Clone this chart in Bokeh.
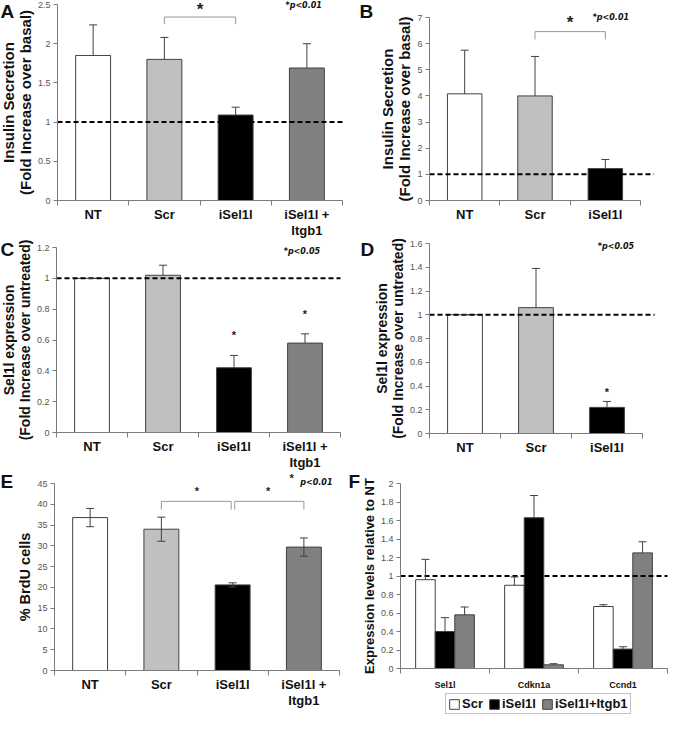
from bokeh.plotting import figure
from bokeh.models import (Range1d, FixedTicker, LinearAxis, Label, Whisker, TeeHead,
                          ColumnDataSource, Legend, LegendItem, NumeralTickFormatter)
from bokeh.layouts import column, row
from bokeh.embed import file_html
from bokeh.resources import INLINE

FONT = "Liberation Sans"

# ---------------- data ----------------
groups4 = ["NT", "Scr", "iSel1l", "iSel1l +\nItgb1"]
groups3 = ["NT", "Scr", "iSel1l"]

a_mean = [1.85, 1.80, 1.09, 1.69]
a_err = [0.39, 0.28, 0.10, 0.31]
b_mean = [4.08, 4.00, 1.22]
b_err = [1.67, 1.51, 0.35]
c_mean = [1.00, 1.02, 0.42, 0.58]
c_err = [0.00, 0.065, 0.08, 0.06]
d_mean = [1.00, 1.06, 0.22]
d_err = [0.00, 0.33, 0.05]
e_mean = [36.8, 34.0, 20.6, 29.7]
e_err = [2.2, 2.9, 0.5, 2.2]

f_genes = ["Sel1l", "Cdkn1a", "Ccnd1"]
f_series = ["Scr", "iSel1l", "iSel1l+Itgb1"]
f_scr = [0.96, 0.90, 0.67]
f_scr_err = [0.22, 0.09, 0.02]
f_isel = [0.40, 1.63, 0.21]
f_isel_err = [0.15, 0.24, 0.025]
f_itgb = [0.58, 0.04, 1.25]
f_itgb_err = [0.085, 0.012, 0.12]

# ---------------- styles ----------------
FILL = ["#ffffff", "#c0c0c0", "#000000", "#808080"]
EDGE = "#404040"
AXC = "#7a7a7a"
TXT = "#111111"


def make_fig(w, h, n, ymax, ystep, ylabel, frame, ylab_size="15px"):
    # frame = local pixel positions of x=0, x=n, y=ymax, y=0
    l, r, t, b = frame
    ux = (r - l) / n
    uy = (b - t) / ymax
    xr = Range1d(-l / ux, n + (w - r) / ux)
    yr = Range1d(-(h - b) / uy, ymax + t / uy)
    p = figure(width=w, height=h, x_range=xr, y_range=yr, x_axis_type=None, y_axis_type=None,
               output_backend="svg", toolbar_location=None, min_border=0,
               min_border_left=0, min_border_right=0, min_border_top=0, min_border_bottom=0)
    p.outline_line_color = None
    nt = int(round(ymax / ystep))
    ticks = [round(i * ystep, 4) for i in range(nt + 1)]
    ya = LinearAxis(ticker=FixedTicker(ticks=ticks), formatter=NumeralTickFormatter(format="0.[0]"),
                    axis_label=ylabel, fixed_location=0, bounds=(0, ymax))
    ya.axis_line_color = AXC
    ya.major_tick_line_color = AXC
    ya.major_tick_out = 4
    ya.major_tick_in = 0
    ya.minor_tick_line_color = None
    ya.major_label_text_font = FONT
    ya.major_label_text_font_size = "9px"
    ya.major_label_text_color = "#555555"
    ya.major_label_standoff = 3
    ya.axis_label_text_font = FONT
    ya.axis_label_text_font_size = ylab_size
    ya.axis_label_text_font_style = "bold"
    ya.axis_label_text_color = TXT
    ya.axis_label_text_line_height = 1.0
    ya.axis_label_standoff = 1
    p.add_layout(ya, "left")
    return p


def add_xaxis(p, labels, size="13px", standoff=1):
    n = len(labels)
    xa = LinearAxis(ticker=FixedTicker(ticks=[i + 0.5 for i in range(n)],
                                       minor_ticks=list(range(n + 1))),
                    major_label_overrides={i + 0.5: lab for i, lab in enumerate(labels)},
                    fixed_location=0, bounds=(0, n))
    xa.axis_line_color = AXC
    xa.major_tick_out = 0
    xa.major_tick_in = 0
    xa.major_tick_line_color = None
    xa.minor_tick_out = 5
    xa.minor_tick_in = 0
    xa.minor_tick_line_color = AXC
    xa.major_label_text_font = FONT
    xa.major_label_text_font_size = size
    xa.major_label_text_font_style = "bold"
    xa.major_label_text_color = TXT
    xa.major_label_text_line_height = 1.1
    xa.major_label_standoff = standoff
    p.add_layout(xa, "below")


def add_bars(p, labels, mean, err, two_sided=False):
    n = len(labels)
    x = [i + 0.5 for i in range(n)]
    src = ColumnDataSource(dict(x=x, top=mean, up=[m + e for m, e in zip(mean, err)],
                                low=[m - e for m, e in zip(mean, err)], color=FILL[:n]))
    p.vbar(x="x", top="top", width=0.49, fill_color="color", line_color=EDGE,
           line_width=1, source=src)
    w = Whisker(source=src, base="x", upper="up", lower="low" if two_sided else "top",
                line_color=EDGE, line_width=1, level="overlay",
                upper_head=TeeHead(size=8, line_color=EDGE, line_width=1),
                lower_head=TeeHead(size=8, line_color=EDGE, line_width=1) if two_sided else None)
    p.add_layout(w)


def add_ref(p, n, extra=0.0):
    p.line(x=[0, n + extra], y=[1, 1], line_color="black", line_width=2, line_dash="5 3")


def add_letter(p, h, text, x, top):
    p.add_layout(Label(x=x, y=h - top, x_units="screen", y_units="screen", text=text,
                       text_font=FONT, text_font_size="19px", text_font_style="bold",
                       text_baseline="top", text_align="left", text_color=TXT))


def add_pval(p, x, y, text):
    p.add_layout(Label(x=x, y=y, text=text, text_font="DejaVu Sans",
                       text_font_size="8px", text_font_style="bold italic",
                       text_baseline="middle", text_align="left", text_color=TXT))


def add_star(p, x, y, size="11px"):
    p.add_layout(Label(x=x, y=y, text="*", text_font=FONT, text_font_size=size,
                       text_font_style="bold", text_baseline="middle", text_align="center",
                       text_color="#222222"))


def add_bracket(p, x1, x2, ytop, ylow):
    p.line(x=[x1, x1, x2, x2], y=[ylow, ytop, ytop, ylow], line_color="#999999", line_width=1)


WL, WR = 347, 323
H1, H2, H3 = 238, 232, 248

# ---------------- Panel A ----------------
pA = make_fig(WL, H1, 4, 2.5, 0.5, "Insulin Secretion\n(Fold Increase over basal)", (57, 342, 4, 200))
add_bars(pA, groups4, a_mean, a_err)
add_ref(pA, 4)
add_xaxis(pA, groups4)
i1, i2 = groups4.index("Scr") + 0.5, groups4.index("iSel1l") + 0.5
add_bracket(pA, i1, i2, 2.34, 2.25)
add_star(pA, (i1 + i2) / 2, 2.44, "17px")
add_pval(pA, 3.2, 2.49, "*p<0.01")
add_letter(pA, H1, "A", 0, 0)

# ---------------- Panel B ----------------
pB = make_fig(WR, H1, 3, 7, 1, "Insulin Secretion\n(Fold Increase over basal)", (82, 293, 17, 200))
add_bars(pB, groups3, b_mean, b_err)
add_ref(pB, 3, 0.19)
add_xaxis(pB, groups3)
i1, i2 = groups3.index("Scr") + 0.5, groups3.index("iSel1l") + 0.5
add_bracket(pB, i1, i2, 6.46, 6.16)
add_star(pB, (i1 + i2) / 2, 6.8, "17px")
add_pval(pB, 2.32, 7.0, "*p<0.01")
add_letter(pB, H1, "B", 12, 0)

# ---------------- Panel C ----------------
pC = make_fig(WL, H2, 4, 1.2, 0.2, "Sel1l expression\n(Fold Increase over untreated)", (56, 340, 9, 194), "14px")
add_bars(pC, groups4, c_mean, c_err)
add_ref(pC, 4)
add_xaxis(pC, groups4)
for g in ["iSel1l", "iSel1l +\nItgb1"]:
    k = groups4.index(g)
    add_star(pC, k + 0.5, c_mean[k] + c_err[k] + 0.13)
add_pval(pC, 3.2, 1.174, "*p<0.05")
add_letter(pC, H2, "C", 0, 0)

# ---------------- Panel D ----------------
pD = make_fig(WR, H2, 3, 1.6, 0.2, "Sel1l expression\n(Fold Increase over untreated)", (82, 295, 5, 195), "14px")
add_bars(pD, groups3, d_mean, d_err)
add_ref(pD, 3, 0.17)
add_xaxis(pD, groups3)
k = groups3.index("iSel1l")
add_star(pD, k + 0.5, d_mean[k] + d_err[k] + 0.08)
add_pval(pD, 2.37, 1.575, "*p<0.05")
add_letter(pD, H2, "D", 13, 0)

# ---------------- Panel E ----------------
pE = make_fig(WL, H3, 4, 45, 5, "% BrdU cells", (54, 339, 13, 200), "14.5px")
add_bars(pE, groups4, e_mean, e_err, two_sided=True)
add_xaxis(pE, groups4)
s, i, it = groups4.index("Scr") + 0.5, groups4.index("iSel1l") + 0.5, groups4.index("iSel1l +\nItgb1") + 0.5
add_bracket(pE, s, i - 0.02, 40.7, 38.7)
add_bracket(pE, i + 0.03, it, 40.7, 38.7)
add_star(pE, (s + i) / 2, 43.3)
add_star(pE, (i + it) / 2, 43.3)
add_star(pE, 3.33, 46.4)
add_pval(pE, 3.45, 45.24, "p<0.01")
add_letter(pE, H3, "E", 0, 0)

# ---------------- Panel F ----------------
pF = make_fig(WR, H3, 3, 2.0, 0.2, "Expression levels relative to NT", (53, 320, 13, 198), "13px")
f_vals = [f_scr, f_isel, f_itgb]
f_errs = [f_scr_err, f_isel_err, f_itgb_err]
f_fill = [FILL[0], FILL[2], FILL[3]]
offsets = [-0.22, 0.0, 0.22]
items = []
for name, vals, errs, col, off in zip(f_series, f_vals, f_errs, f_fill, offsets):
    xs = [g + 0.5 + off for g in range(len(f_genes))]
    src = ColumnDataSource(dict(x=xs, top=vals, up=[v + e for v, e in zip(vals, errs)]))
    r = pF.vbar(x="x", top="top", width=0.22, fill_color=col, line_color=EDGE,
                line_width=1, source=src)
    pF.add_layout(Whisker(source=src, base="x", upper="up", lower="top", line_color=EDGE,
                          line_width=1, level="overlay",
                          upper_head=TeeHead(size=8, line_color=EDGE, line_width=1),
                          lower_head=None))
    items.append(LegendItem(label=name, renderers=[r]))
add_ref(pF, 3)
add_xaxis(pF, f_genes, size="9px", standoff=6)
leg = Legend(items=items, orientation="horizontal", location=(98, 4),
             border_line_color="#888888", border_line_width=1, background_fill_color="white",
             label_text_font=FONT, label_text_font_size="13px", label_text_font_style="bold",
             label_text_color=TXT, glyph_width=12, glyph_height=12,
             spacing=5, padding=2, margin=0, label_standoff=2, label_height=14)
pF.add_layout(leg)
add_letter(pF, H3, "F", 1, 0)

layout = column(row(pA, pB), row(pC, pD), row(pE, pF))
open("out.html", "w").write(file_html(layout, INLINE))
